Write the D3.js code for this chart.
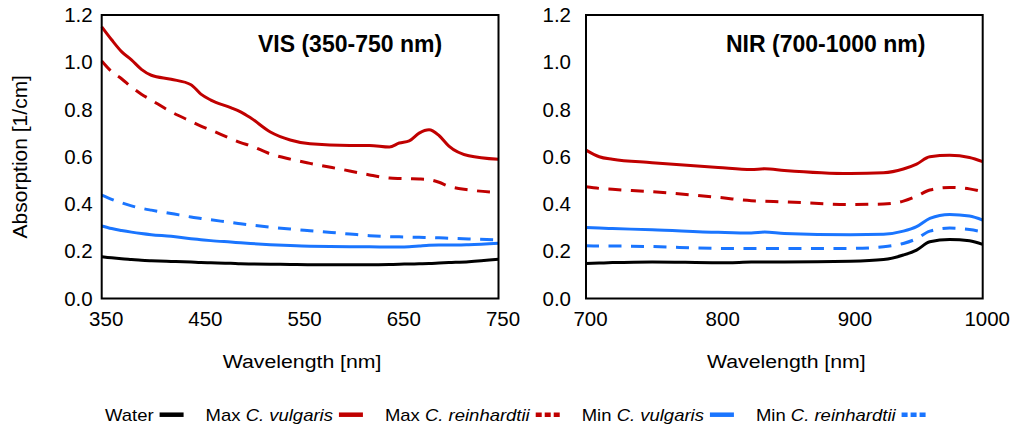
<!DOCTYPE html>
<html>
<head>
<meta charset="utf-8">
<script src="https://d3js.org/d3.v7.min.js"></script>
<style>
  body { margin: 0; background: #fff; }
  text { font-family: "Liberation Sans", Arial, sans-serif; fill: #000; }
</style>
</head>
<body>
<script>
// VIS panel (350-750 nm)
var visWl = [350, 360, 370, 380, 390, 400, 420, 440, 450, 460, 480, 490, 500, 520, 540, 560, 600, 620, 640, 650, 660, 670, 680, 690, 700, 720, 750];
var visWater = [0.177, 0.172, 0.168, 0.165, 0.162, 0.160, 0.157, 0.154, 0.152, 0.151, 0.149, 0.147, 0.146, 0.145, 0.144, 0.143, 0.143, 0.143, 0.144, 0.145, 0.146, 0.147, 0.148, 0.150, 0.152, 0.156, 0.166];
var visMaxVul = [1.150, 1.095, 1.045, 1.010, 0.970, 0.945, 0.928, 0.905, 0.865, 0.840, 0.808, 0.790, 0.765, 0.705, 0.671, 0.655, 0.648, 0.648, 0.641, 0.658, 0.667, 0.700, 0.714, 0.690, 0.645, 0.604, 0.589];
var visMaxRei = [1.005, 0.960, 0.930, 0.895, 0.865, 0.840, 0.790, 0.750, 0.730, 0.713, 0.677, 0.660, 0.647, 0.612, 0.590, 0.572, 0.540, 0.523, 0.510, 0.508, 0.507, 0.506, 0.503, 0.492, 0.475, 0.460, 0.448];
var visMinVul = [0.307, 0.296, 0.288, 0.281, 0.275, 0.270, 0.263, 0.253, 0.249, 0.245, 0.239, 0.236, 0.233, 0.228, 0.224, 0.221, 0.219, 0.219, 0.218, 0.218, 0.219, 0.222, 0.225, 0.226, 0.226, 0.228, 0.234];
var visMinRei = [0.438, 0.420, 0.405, 0.392, 0.382, 0.374, 0.360, 0.345, 0.339, 0.333, 0.322, 0.316, 0.311, 0.302, 0.294, 0.287, 0.273, 0.266, 0.262, 0.261, 0.260, 0.259, 0.258, 0.257, 0.255, 0.252, 0.248];

// NIR panel (700-1000 nm)
var nirWl = [700, 710, 720, 750, 800, 825, 835, 850, 900, 925, 940, 950, 960, 975, 990, 1000];
var nirWater = [0.148, 0.150, 0.152, 0.155, 0.151, 0.154, 0.155, 0.155, 0.158, 0.165, 0.184, 0.205, 0.240, 0.250, 0.244, 0.229];
var nirMaxVul = [0.628, 0.600, 0.589, 0.575, 0.555, 0.546, 0.549, 0.542, 0.529, 0.532, 0.548, 0.569, 0.600, 0.606, 0.597, 0.579];
var nirMaxRei = [0.473, 0.466, 0.462, 0.452, 0.428, 0.414, 0.412, 0.409, 0.398, 0.400, 0.412, 0.433, 0.459, 0.470, 0.464, 0.452];
var nirMinVul = [0.301, 0.298, 0.296, 0.291, 0.280, 0.277, 0.281, 0.275, 0.270, 0.272, 0.285, 0.304, 0.339, 0.356, 0.349, 0.332];
var nirMinRei = [0.223, 0.222, 0.222, 0.220, 0.212, 0.212, 0.212, 0.212, 0.212, 0.219, 0.233, 0.253, 0.285, 0.298, 0.292, 0.282];

var visTicks = [350, 450, 550, 650, 750];
var nirTicks = [700, 800, 900, 1000];
var yTicks = [0, 0.2, 0.4, 0.6, 0.8, 1.0, 1.2];

var seriesNames = ["Water", "Max C. vulgaris", "Max C. reinhardtii", "Min C. vulgaris", "Min C. reinhardtii"];
var seriesColors = ["#000000", "#c00000", "#c00000", "#1a75ff", "#1a75ff"];
var seriesDashed = [false, false, true, false, true];

var svg = d3.select("body").append("svg")
    .attr("width", 1013)
    .attr("height", 429);

var y = d3.scaleLinear().domain([0, 1.2]).range([298.5, 15]);

var panels = [
    { wl: visWl, data: [visWater, visMaxVul, visMaxRei, visMinVul, visMinRei], domain: [350, 750], range: [101.7, 498.5],
      ticks: visTicks, title: "VIS (350-750 nm)", titleX: 258, labelPad: 9 },
    { wl: nirWl, data: [nirWater, nirMaxVul, nirMaxRei, nirMinVul, nirMinRei], domain: [700, 1000], range: [586, 982.7],
      ticks: nirTicks, title: "NIR (700-1000 nm)", titleX: 726, labelPad: 15 }
];

panels.forEach(function (p) {
    var x = d3.scaleLinear().domain(p.domain).range(p.range);
    var g = svg.append("g");

    // lines (draw in reverse so water ends on top like the original)
    var line = d3.line()
        .x(function (d) { return x(d[0]); })
        .y(function (d) { return y(d[1]); })
        .curve(d3.curveMonotoneX);

    [4, 3, 2, 1, 0].forEach(function (i) {
        var pts = p.wl.map(function (w, k) { return [w, p.data[i][k]]; });
        g.append("path")
            .datum(pts)
            .attr("d", line)
            .attr("fill", "none")
            .attr("stroke", seriesColors[i])
            .attr("stroke-width", 3)
            .attr("stroke-dasharray", seriesDashed[i] ? "13,9.5" : null);
    });

    // frame
    g.append("rect")
        .attr("x", p.range[0])
        .attr("y", y(1.2))
        .attr("width", p.range[1] - p.range[0])
        .attr("height", y(0) - y(1.2))
        .attr("fill", "none")
        .attr("stroke", "#000")
        .attr("stroke-width", 2);

    // y axis
    var yAxis = g.append("g")
        .attr("transform", "translate(" + p.range[0] + ",0)")
        .call(d3.axisLeft(y).tickValues(yTicks).tickFormat(d3.format(".1f")).tickSize(0).tickPadding(p.labelPad));
    yAxis.select(".domain").remove();
    yAxis.selectAll("text")
        .style("font-family", "'Liberation Sans', Arial, sans-serif")
        .style("font-size", "20.5px")
        .attr("fill", "#000");

    // x axis
    var xAxis = g.append("g")
        .attr("transform", "translate(0," + y(0) + ")")
        .call(d3.axisBottom(x).tickValues(p.ticks).tickFormat(d3.format("d")).tickSize(0).tickPadding(13));
    xAxis.select(".domain").remove();
    xAxis.selectAll("text")
        .style("font-family", "'Liberation Sans', Arial, sans-serif")
        .style("font-size", "20.5px")
        .attr("dx", 4)
        .attr("fill", "#000");

    // panel title
    g.append("text")
        .attr("x", p.titleX)
        .attr("y", 51.5)
        .style("font-size", "23px")
        .style("font-weight", "bold")
        .text(p.title);

    // x axis title
    var cx = (p.range[0] + p.range[1]) / 2 + 2;
    g.append("text")
        .attr("transform", "translate(" + cx + ",368) scale(1.12,1)")
        .attr("text-anchor", "middle")
        .style("font-size", "19px")
        .text("Wavelength [nm]");
});

// y axis title
svg.append("text")
    .attr("transform", "translate(27," + ((y(0) + y(1.2)) / 2) + ") rotate(-90)")
    .attr("text-anchor", "middle")
    .style("font-size", "21px")
    .text("Absorption [1/cm]");

// legend
var legend = svg.append("g");
var lx = 105, ly = 420.7, stretch = 1.17;
seriesNames.forEach(function (name, i) {
    var t = legend.append("text")
        .attr("transform", "translate(" + lx + "," + ly + ") scale(" + stretch + ",1)")
        .style("font-size", "15.8px");
    var parts = name.split(" ");
    if (parts.length > 1) {
        t.append("tspan").text(parts[0] + " ");
        t.append("tspan").style("font-style", "italic").text(parts.slice(1).join(" "));
    } else {
        t.text(name);
    }
    var w = t.node().getComputedTextLength() * stretch;
    var sx = lx + w + 6;
    legend.append("line")
        .attr("x1", sx).attr("x2", sx + 24)
        .attr("y1", ly - 6).attr("y2", ly - 6)
        .attr("stroke", seriesColors[i])
        .attr("stroke-width", 4.5)
        .attr("stroke-dasharray", seriesDashed[i] ? "6,3" : null);
    lx = sx + 24 + 22;
});
</script>
</body>
</html>
